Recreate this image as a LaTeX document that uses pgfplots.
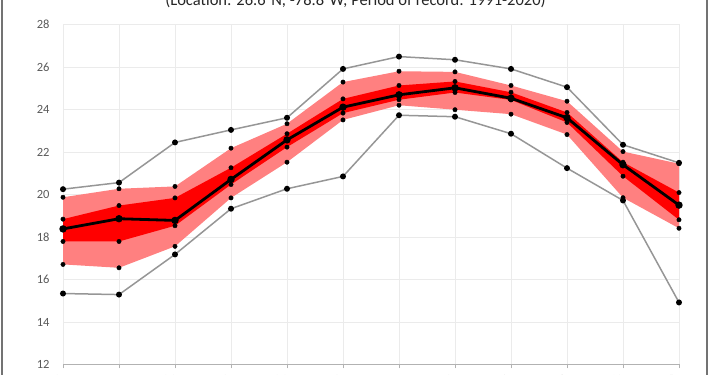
\documentclass[border=0pt]{standalone}
\usepackage{pgfplots}
\pgfplotsset{compat=1.18}
\usepackage{pgfplotstable}
\usepgfplotslibrary{fillbetween}
\usepackage{fontspec}
\setmainfont{Carlito}
\definecolor{lightred}{RGB}{255,128,128}
\definecolor{darkred}{RGB}{255,0,0}
\definecolor{linegray}{RGB}{150,150,150}
\definecolor{textgray}{RGB}{89,89,89}

\pgfplotstableread{
x  max    p90    p75    med    p25    p10    min
0  20.25  19.87  18.84  18.38  17.79  16.71  15.34
1  20.56  20.27  19.48  18.86  17.79  16.55  15.29
2  22.45  20.38  19.84  18.78  18.53  17.56  17.18
3  23.04  22.18  21.26  20.71  20.47  19.84  19.33
4  23.61  23.33  22.86  22.57  22.23  21.52  20.27
5  25.91  25.29  24.50  24.11  23.83  23.51  20.85
6  26.49  25.80  25.13  24.69  24.46  24.20  23.73
7  26.34  25.77  25.32  25.02  24.80  23.99  23.66
8  25.91  25.13  24.81  24.53  24.45  23.78  22.86
9  25.05  24.39  23.86  23.61  23.39  22.82  21.24
10 22.34  22.02  21.52  21.40  20.86  19.85  19.72
11 21.49  21.45  20.09  19.50  18.81  18.41  14.92
}\data

\begin{document}
\begin{tikzpicture}[x=1pt,y=1pt]
\begin{axis}[
  at={(63pt,10.5pt)}, anchor=south west,
  scale only axis, width=616pt, height=340pt,
  xmin=0, xmax=11, ymin=12, ymax=28,
  xtick={0,...,11},
  xticklabels={Jan,Feb,Mar,Apr,May,Jun,Jul,Aug,Sep,Oct,Nov,Dec},
  ytick={12,14,...,28},
  /pgf/number format/assume math mode=true,
  grid=major,
  major grid style={color=black!8, line width=0.6pt},
  axis x line*=bottom, axis y line*=left,
  axis line style={-},
  x axis line style={color=black!30, line width=0.8pt},
  y axis line style={draw=none},
  xtick style={color=black!30, line width=0.8pt},
  ytick style={draw=none},
  tick align=outside,
  major tick length=4pt,
  tick label style={font=\fontsize{12.5}{15}\selectfont, color=textgray},
  yticklabel style={xshift=-6pt},
  xticklabel style={yshift=-3.5pt},
  clip=false,
  every axis plot/.append style={mark size=2.2pt},
]
\addplot[name path=p90, draw=none] table[x=x,y=p90]{\data};
\addplot[name path=p10, draw=none] table[x=x,y=p10]{\data};
\addplot[fill=lightred, draw=none] fill between[of=p90 and p10];
\addplot[name path=p75, draw=none] table[x=x,y=p75]{\data};
\addplot[name path=p25, draw=none] table[x=x,y=p25]{\data};
\addplot[fill=darkred, draw=none] fill between[of=p75 and p25];

\addplot[linegray, line width=1.5pt, mark=*, mark options={fill=black, draw=black}] table[x=x,y=max]{\data};
\addplot[linegray, line width=1.5pt, mark=*, mark options={fill=black, draw=black}] table[x=x,y=min]{\data};
\addplot[only marks, mark=*, black] table[x=x,y=p90]{\data};
\addplot[only marks, mark=*, black] table[x=x,y=p75]{\data};
\addplot[only marks, mark=*, black] table[x=x,y=p25]{\data};
\addplot[only marks, mark=*, black] table[x=x,y=p10]{\data};
\addplot[black, line width=2.8pt, mark=*, mark options={fill=black, draw=black}] table[x=x,y=med]{\data};
\end{axis}
\node[font=\fontsize{16.5}{19}\selectfont, color=black!85, anchor=base] at (355.5pt,369.5pt)
  {(Location: 26.6°N, -78.8°W; Period of record: 1991-2020)};
\draw[black!55, line width=1.2pt] (2pt,-20pt) rectangle (707pt,400pt);
\pgfresetboundingbox
\useasboundingbox (0pt,0pt) rectangle (710pt,375pt);
\end{tikzpicture}
\end{document}
